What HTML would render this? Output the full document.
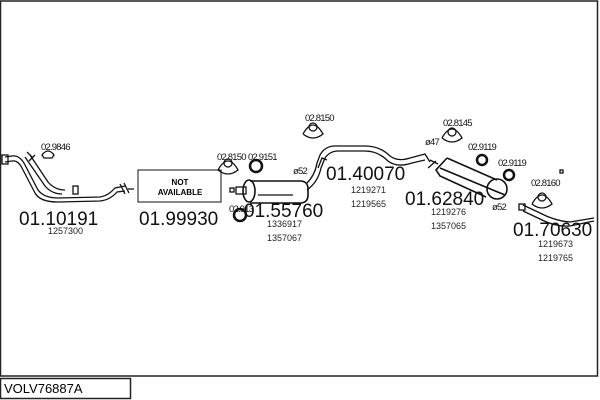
<!DOCTYPE html>
<html><head><meta charset="utf-8"><style>
html,body{margin:0;padding:0;background:#fff;width:600px;height:400px;overflow:hidden}
svg{display:block;font-family:"Liberation Sans",sans-serif}
.big{font-size:19px;fill:#111}
.sm{font-size:9px;fill:#222}
.ref{font-size:9.5px;fill:#111;letter-spacing:-0.8px}
</style></head><body>
<svg width="600" height="400" viewBox="0 0 600 400">
<rect x="0.5" y="1" width="597" height="375" fill="none" stroke="#222" stroke-width="1.5"/>
<rect x="0.5" y="378.5" width="130" height="20" fill="none" stroke="#222" stroke-width="1.5"/>
<text x="4" y="393" font-size="13" fill="#000">VOLV76887A</text>

<g fill="none" stroke="#111" stroke-width="1.3">
<path d="M5,157 L12,156 Q20,155 25,165 L38,190 Q44,198 58,198 L100,197 Q108,196 115,188 L125,186"/>
<path d="M5,162 L12,161 Q18,160 22,168 L35,193 Q40,202 58,202 L100,201 Q110,200 117,192 L125,191"/>
<path d="M25,157 L45,186 Q52,194 62,194"/>
<path d="M30,155 L48,182 Q55,190 65,190"/>
<rect x="2" y="155" width="6" height="9"/>
<path d="M27,152 l6,6 M29,161 l6,-6"/>
<rect x="73" y="186" width="5" height="8"/>
<path d="M120,184 l5,10 M124,183 l5,10 M128,189 h6"/>
<path d="M42,155 q6,-8 12,0 l-2,3 h-8z"/>
<rect x="138" y="170" width="83" height="32" stroke-width="1"/>
<path d="M250,181 h50 q8,0 8,8 v6 q0,8 -8,8 h-50" stroke-width="1.6"/>
<path d="M258,195 h35"/>
<ellipse cx="249" cy="191" rx="6" ry="11" stroke-width="1.6"/>
<rect x="236" y="187" width="10" height="7"/>
<rect x="230" y="188" width="4" height="4"/>
<path d="M307,183 Q315,175 317,163 L320,155 Q325,146 335,146 L365,146 Q380,146 390,156 Q398,162 410,158 L425,154 L430,162 M307,190 Q318,182 321,168 L325,158 Q330,151 338,151 L365,151 Q378,151 388,161 Q397,168 412,163 L425,160"/>
<path d="M318,168 l4,-10 l5,2"/>
<path d="M440,168 L488,188 L505,195 M447,158 L497,180" stroke-width="1.6"/>
<path d="M447,158 L436,170 L440,176 L486,197" stroke-width="1.6"/>
<circle cx="497" cy="189" r="10" stroke-width="1.6"/>
<path d="M430,160 l8,4 M428,168 l8,-7"/>
<path d="M523,205 L540,213 Q555,221 570,222 L594,218 M523,211 L540,219 Q555,227 570,226 L594,221"/>
<rect x="519" y="204" width="6" height="6"/>
<rect x="560" y="170" width="3" height="3"/>
<path d="M218,170 q10,-18 20,0 q-10,8 -20,0"/><circle cx="228" cy="163" r="4"/>
<path d="M303,134 q10,-18 20,0 q-10,8 -20,0"/><circle cx="313" cy="127" r="4"/>
<path d="M442,138 q10,-18 20,0 q-10,8 -20,0"/><circle cx="452" cy="132" r="4"/>
<path d="M532,204 q10,-18 20,0 q-10,8 -20,0"/><circle cx="542" cy="197" r="4"/>
<circle cx="256" cy="166" r="6" stroke-width="2.5"/>
<circle cx="240" cy="215" r="6" stroke-width="2.5"/>
<circle cx="482" cy="160" r="5" stroke-width="2.5"/>
<circle cx="509" cy="175" r="5" stroke-width="2.5"/>
</g>

<text x="19" y="225" class="big">01.10191</text>
<text x="48" y="234" class="sm">1257300</text>
<text x="139" y="225" class="big">01.99930</text>
<text x="244" y="217" class="big">01.55760</text>
<text x="267" y="227" class="sm">1336917</text>
<text x="267" y="241" class="sm">1357067</text>
<text x="326" y="180" class="big">01.40070</text>
<text x="351" y="193" class="sm">1219271</text>
<text x="351" y="207" class="sm">1219565</text>
<text x="405" y="205" class="big">01.62840</text>
<text x="431" y="215" class="sm">1219276</text>
<text x="431" y="229" class="sm">1357065</text>
<text x="513" y="236" class="big">01.70630</text>
<text x="538" y="247" class="sm">1219673</text>
<text x="538" y="261" class="sm">1219765</text>
<text x="180" y="185" font-size="8" font-weight="bold" text-anchor="middle">NOT</text>
<text x="180" y="195" font-size="8" font-weight="bold" text-anchor="middle">AVAILABLE</text>

<text x="41" y="150" class="ref">02.9846</text>
<text x="217" y="160" class="ref">02.8150</text>
<text x="248" y="160" class="ref">02.9151</text>
<text x="229" y="212" class="ref">02.913</text>
<text x="305" y="121" class="ref">02.8150</text>
<text x="443" y="126" class="ref">02.8145</text>
<text x="468" y="150" class="ref">02.9119</text>
<text x="498" y="166" class="ref">02.9119</text>
<text x="531" y="186" class="ref">02.8160</text>
<text x="293" y="174" class="ref">ø52</text>
<text x="425" y="145" class="ref">ø47</text>
<text x="492" y="210" class="ref">ø52</text>
</svg>
</body></html>
